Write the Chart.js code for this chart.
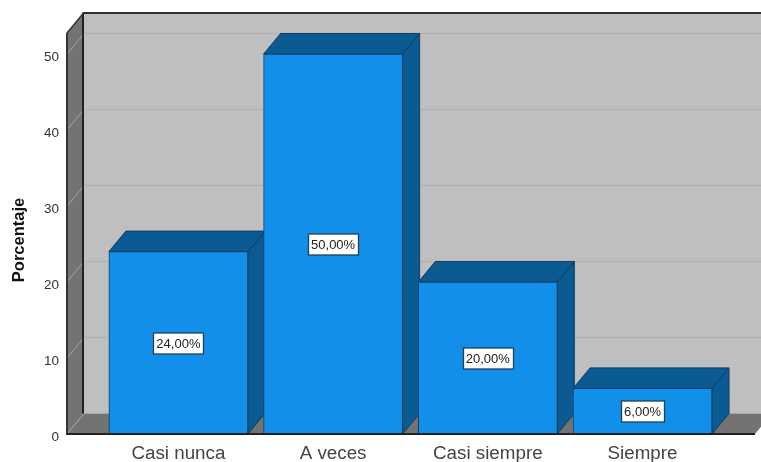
<!DOCTYPE html>
<html lang="es">
<head>
    <meta charset="UTF-8">
    <title>Porcentaje</title>
    <script src="https://cdn.jsdelivr.net/npm/chart.js@4/dist/chart.umd.min.js"></script>
    <style>
        html, body { margin: 0; padding: 0; background: #fff; overflow: hidden; }
        #wrap { width: 761px; height: 462px; position: relative; }
    </style>
</head>
<body>
    <div id="wrap"><canvas id="chart"></canvas></div>
    <script>
        const categories = ['Casi nunca', 'A veces', 'Casi siempre', 'Siempre'];
        const percentages = [24, 50, 20, 6];
        const yTickValues = [0, 10, 20, 30, 40, 50];
        const yAxisTitle = 'Porcentaje';

        const depthX = 17;
        const depthY = 20.5;
        const frontColor = '#1290e9';
        const shadeColor = '#0b5a92';
        const edgeColor = '#0c3f66';
        const fontFamily = '"Liberation Sans", Arial, sans-serif';

        function poly(ctx, pts, fill, stroke, lw) {
            ctx.beginPath();
            pts.forEach((p, i) => i ? ctx.lineTo(p[0], p[1]) : ctx.moveTo(p[0], p[1]));
            ctx.closePath();
            if (fill) { ctx.fillStyle = fill; ctx.fill(); }
            if (stroke) { ctx.strokeStyle = stroke; ctx.lineWidth = lw || 1; ctx.stroke(); }
        }

        function line(ctx, x1, y1, x2, y2, color, lw) {
            ctx.beginPath();
            ctx.moveTo(x1, y1);
            ctx.lineTo(x2, y2);
            ctx.strokeStyle = color;
            ctx.lineWidth = lw;
            ctx.stroke();
        }

        // walls, floor and the side and top faces of the bars
        const box3d = {
            id: 'box3d',
            beforeDatasetsDraw(chart) {
                const ctx = chart.ctx;
                const { left, right, top, bottom } = chart.chartArea;
                const y = chart.scales.y;
                ctx.save();
                // back wall
                poly(ctx, [[left + depthX, top - depthY], [right + depthX, top - depthY], [right + depthX, bottom - depthY], [left + depthX, bottom - depthY]], '#bfbfbf');
                // left wall and floor
                poly(ctx, [[left, top], [left + depthX, top - depthY], [left + depthX, bottom - depthY], [left, bottom]], '#737373');
                poly(ctx, [[left, bottom], [left + depthX, bottom - depthY], [right + depthX, bottom - depthY], [right, bottom]], '#737373');
                // grid lines
                yTickValues.forEach(v => {
                    const py = y.getPixelForValue(v);
                    if (v > 0) line(ctx, left + depthX, py - depthY, right + depthX, py - depthY, '#b3b3b3', 1.5);
                    line(ctx, left, py, left + depthX, py - depthY, '#a3a3a3', 1);
                });
                // frame
                line(ctx, left - 1, bottom, right, bottom, '#222', 2);
                line(ctx, left, top, left, bottom, '#333', 2);
                line(ctx, left + depthX - 1, top - depthY, left + depthX - 1, bottom - depthY, '#222', 2);
                line(ctx, left, top, left + depthX, top - depthY, '#333', 1.5);
                line(ctx, left + depthX, top - depthY + 0.5, 761, top - depthY + 0.5, '#333', 2);
                // bar sides and tops
                chart.getDatasetMeta(0).data.forEach(bar => {
                    const half = bar.width / 2;
                    const l = bar.x - half, r = bar.x + half;
                    const t = bar.y, b = bar.base;
                    poly(ctx, [[r, t], [r + depthX, t - depthY], [r + depthX, b - depthY], [r, b]], shadeColor, edgeColor, 1);
                    poly(ctx, [[l, t], [l + depthX, t - depthY], [r + depthX, t - depthY], [r, t]], shadeColor, edgeColor, 1);
                });
                ctx.restore();
            },
            afterDatasetsDraw(chart) {
                const ctx = chart.ctx;
                ctx.save();
                ctx.font = '13px ' + fontFamily;
                ctx.textAlign = 'center';
                ctx.textBaseline = 'middle';
                chart.getDatasetMeta(0).data.forEach((bar, i) => {
                    const text = percentages[i].toFixed(2).replace('.', ',') + '%';
                    const w = Math.round(ctx.measureText(text).width) + 6;
                    const cy = Math.round((bar.y + bar.base) / 2) + 0.5;
                    const x0 = Math.round(bar.x - w / 2) + 0.5;
                    ctx.fillStyle = '#fff';
                    ctx.fillRect(x0, cy - 10.5, w, 21);
                    ctx.strokeStyle = '#1f3f58';
                    ctx.lineWidth = 1.3;
                    ctx.strokeRect(x0, cy - 10.5, w, 21);
                    ctx.fillStyle = '#222';
                    ctx.fillText(text, bar.x, cy + 0.5);
                });
                line(ctx, chart.chartArea.left - 1, chart.chartArea.bottom, chart.chartArea.right, chart.chartArea.bottom, '#222', 2);
                // y axis title
                ctx.translate(24, 240);
                ctx.rotate(-Math.PI / 2);
                ctx.font = 'bold 16.5px ' + fontFamily;
                ctx.textBaseline = 'alphabetic';
                ctx.fillStyle = '#111';
                ctx.fillText(yAxisTitle, 0, 0);
                ctx.restore();
            }
        };

        new Chart(document.getElementById('chart'), {
            type: 'bar',
            data: {
                datasets: [{
                    data: percentages.map((v, i) => ({ x: i, y: v })),
                    backgroundColor: frontColor,
                    borderColor: edgeColor,
                    borderWidth: 1,
                    barThickness: 139
                }]
            },
            plugins: [box3d],
            options: {
                responsive: true,
                maintainAspectRatio: false,
                animation: false,
                layout: { padding: { top: 33, right: 6, left: 0, bottom: 0 } },
                plugins: { legend: { display: false }, tooltip: { enabled: false } },
                scales: {
                    x: {
                        type: 'linear',
                        offset: false,
                        min: -0.72,
                        max: 3.727,
                        afterBuildTicks(scale) { scale.ticks = categories.map((c, i) => ({ value: i })); },
                        afterFit(scale) { scale.height = 28; },
                        grid: { display: false },
                        border: { display: false },
                        ticks: {
                            callback: v => categories[v],
                            autoSkip: false,
                            maxRotation: 0,
                            padding: 1,
                            color: '#444',
                            font: { family: fontFamily, size: 18.8 }
                        }
                    },
                    y: {
                        min: 0,
                        max: 52.76,
                        afterBuildTicks(scale) { scale.ticks = yTickValues.map(v => ({ value: v })); },
                        afterFit(scale) { scale.width = 67; },
                        grid: { display: false },
                        border: { display: false },
                        ticks: {
                            padding: 0,
                            labelOffset: 3,
                            color: '#333',
                            font: { family: fontFamily, size: 13.5 }
                        }
                    }
                }
            }
        });
    </script>
</body>
</html>
